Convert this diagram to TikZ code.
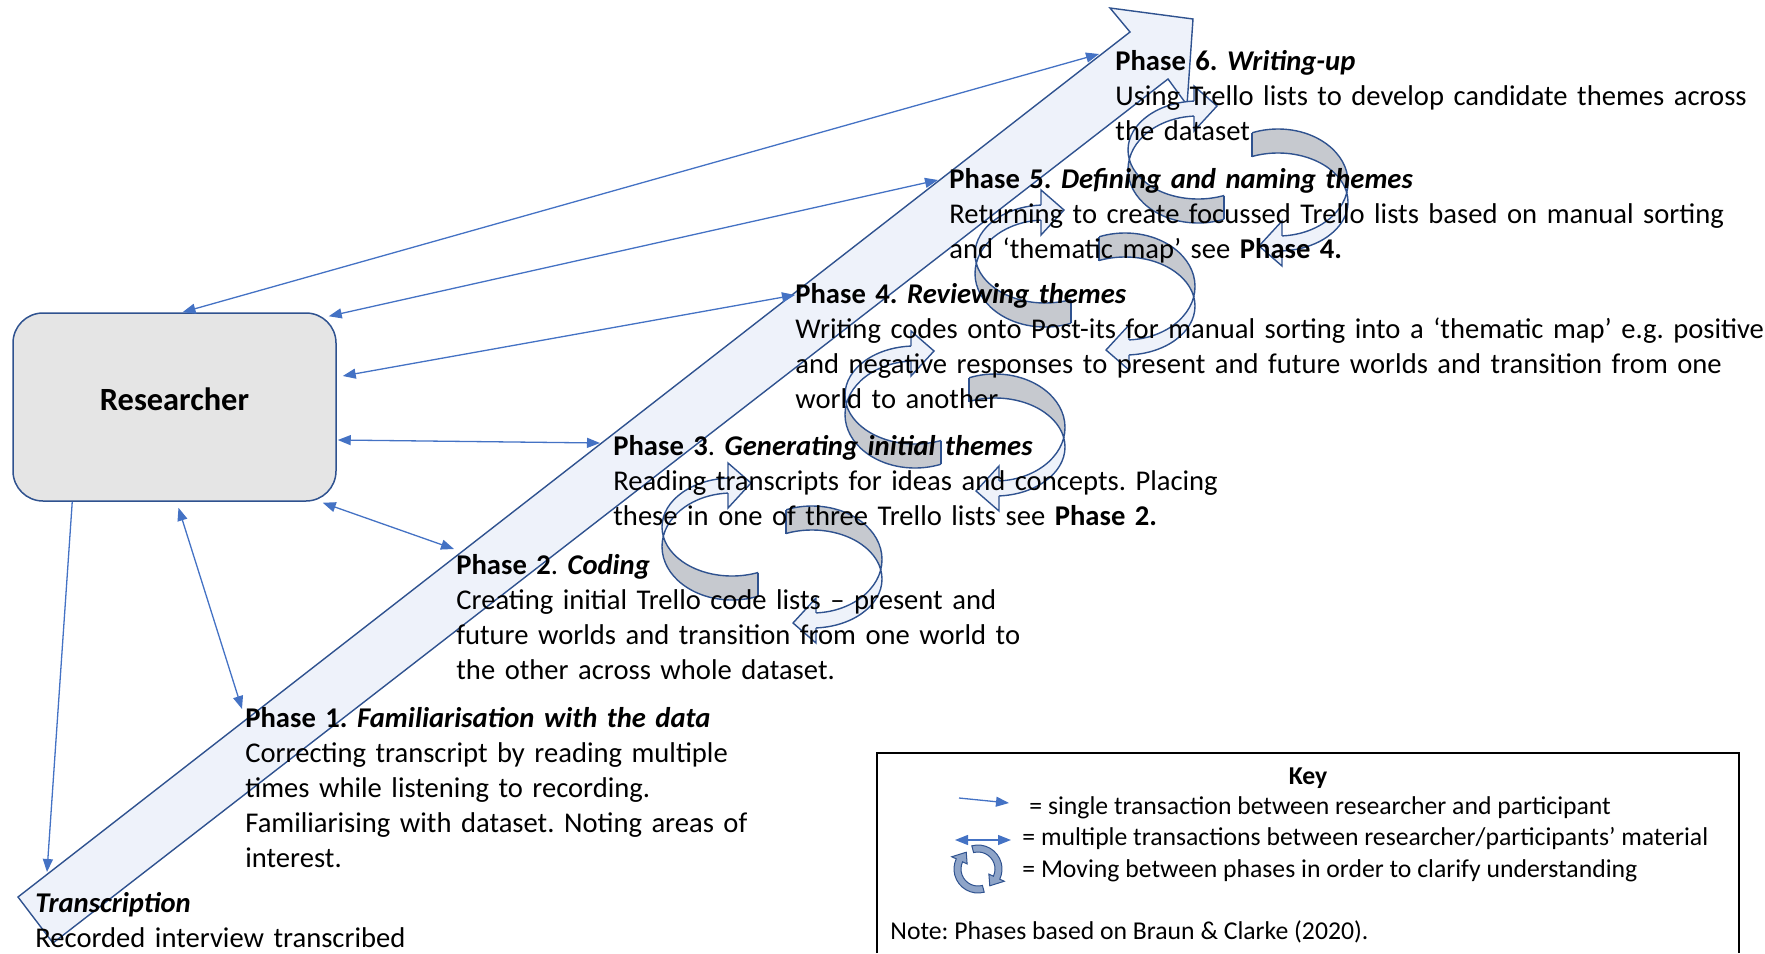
\documentclass[tikz,border=0pt]{standalone}
\usepackage{fontspec}
\setmainfont{Carlito}
\usetikzlibrary{positioning,calc,arrows.meta}
\frenchspacing

\definecolor{linkblue}{HTML}{4472C4}
\definecolor{edgeblue}{HTML}{2F528F}
\definecolor{paleblue}{HTML}{EEF2FA}
\definecolor{backgrey}{HTML}{C6C9CF}
\definecolor{boxgrey}{HTML}{E5E5E5}
\definecolor{ringblue}{HTML}{8EA4C8}

% one half of a twisted loop: grey back, pale front with its head
\newcommand{\turnarc}{%
  \begin{scope}
    \clip (-130,-16.7) rectangle (-14,70);
    \filldraw[backband,even odd rule] (-40,-26) ellipse[x radius=70,y radius=49]
      (-40,-6.5) ellipse[x radius=70,y radius=53.5];
  \end{scope}
  \draw[bandedge] (-14,19.5) -- (-14,43.2);
  \begin{scope}
    \clip (-130,-16.7) rectangle (-44,-110);
    \filldraw[frontband,even odd rule] (-40,-26) ellipse[x radius=70,y radius=49]
      (-40,-6.5) ellipse[x radius=70,y radius=53.5];
  \end{scope}
  \filldraw[frontband] (-44,-74.9) -- (-44,-90) -- (-21,-70) -- (-44,-45) -- (-44,-59.9);
}
% two halves turned round one another
\newcommand{\turnpair}[2]{%
  \begin{scope}[shift={(#1,#2)}]
    \turnarc
    \begin{scope}[rotate=180]\turnarc\end{scope}
  \end{scope}}

\begin{document}
\begin{tikzpicture}[x=0.5pt,y=-0.5pt,
    phase/.style={anchor=base west,inner sep=0pt,text width=500pt,align=left,
      font=\fontsize{14.3}{17.5}\selectfont},
    keytext/.style={anchor=base west,inner sep=0pt,font=\fontsize{12.85}{15.75}\selectfont},
    link/.style={draw=linkblue,line width=0.65pt},
    oneway/.style={-{Triangle[length=6.5pt,width=5pt]}},
    twoway/.style={{Triangle[length=6.5pt,width=5pt]}-{Triangle[length=6.5pt,width=5pt]}},
    bandedge/.style={draw=edgeblue,line width=0.7pt},
    backband/.style={bandedge,fill=backgrey},
    frontband/.style={bandedge,fill=paleblue},
    keyring/.style={draw=edgeblue,line width=0.5pt,fill=ringblue}]

  \useasboundingbox (0,0) rectangle (1765,953);

  % main arrow through the phases
  \filldraw[frontband] (18,897) -- (1130,32) -- (1110,8) -- (1193,19)
    -- (1187,105) -- (1168,79) -- (53,943) -- cycle;

  \turnpair{772}{553}
  \turnpair{955}{421}
  \turnpair{1085}{280}
  \turnpair{1238}{176}

  \node[draw=edgeblue,line width=0.75pt,fill=boxgrey,rounded corners=15pt,
    minimum width=161.5pt,minimum height=94pt,text depth=8pt,
    font=\fontsize{16.2}{19}\selectfont\bfseries] (res) at (174.5,407) {Researcher};

  \node[phase] (ph6) at (1115,70) {\textbf{Phase 6. \textit{Writing-up}}\\
    Using Trello lists to develop candidate themes across\\the dataset};
  \node[phase] (ph5) at (949,188) {\textbf{Phase 5. \textit{Defining and naming themes}}\\
    Returning to create focussed Trello lists based on manual sorting\\
    and ‘thematic map’ see \textbf{Phase 4.}};
  \node[phase] (ph4) at (795,303) {\textbf{Phase 4. \textit{Reviewing themes}}\\
    Writing codes onto Post-its for manual sorting into a ‘thematic map’ e.g. positive\\
    and negative responses to present and future worlds and transition from one\\
    world to another};
  \node[phase] (ph3) at (613,455) {\textbf{Phase 3}. \textbf{\textit{Generating initial themes}}\\
    Reading transcripts for ideas and concepts. Placing\\
    these in one of three Trello lists see \textbf{Phase 2.}};
  \node[phase] (ph2) at (456,574) {\textbf{Phase 2}. \textbf{\textit{Coding}}\\
    Creating initial Trello code lists – present and\\
    future worlds and transition from one world to\\
    the other across whole dataset.};
  \node[phase] (ph1) at (245,727) {\textbf{Phase 1. \textit{Familiarisation with the data}}\\
    Correcting transcript by reading multiple\\
    times while listening to recording.\\
    Familiarising with dataset. Noting areas of\\
    interest.};
  \node[phase] (trans) at (35,912) {\textbf{\textit{Transcription}}\\
    Recorded interview transcribed};

  % researcher links
  \draw[link,twoway] ($(res.north)+(8,0)$) -- ($(ph6.base west)+(-16,-16)$);
  \draw[link,twoway] ($(res.north east)+(-8,4)$) -- ($(ph5.base west)+(-11,-8)$);
  \draw[link,twoway] ($(res.east)+(6,-31)$) -- ($(ph4.base west)+(0,-8)$);
  \draw[link,twoway] ($(res.east)+(1,33)$) -- ($(ph3.base west)+(-13,-12)$);
  \draw[link,twoway] ($(res.south east)+(-14,1)$) -- ($(ph2.base west)+(-2,-25)$);
  \draw[link,twoway] ($(res.south)+(4,6)$) -- ($(ph1.base west)+(-3,-18)$);
  \draw[link,oneway] ($(res.south west)+(60,0)$) -- ($(trans.base west)+(12,-40)$);

  % key
  \draw[line width=0.75pt] (877,953) -- (877,753) -- (1739,753) -- (1739,953);
  \node[keytext,anchor=base,font=\fontsize{12.85}{15.75}\selectfont\bfseries] (keytitle) at (1308,784) {Key};
  \coordinate (s1) at (959,798);
  \coordinate (s2) at (1009,803);
  \draw[link,oneway] (s1) -- (s2);
  \coordinate (m1) at (955,840);
  \coordinate (m2) at (1011,840);
  \draw[link,twoway] (m1) -- (m2);
  \foreach \turn in {0,180}
    \filldraw[keyring,shift={(978,869)},rotate=\turn] (75:24)
      arc[start angle=75,end angle=205,radius=24] -- (205:29) -- (235:20.5)
      -- (205:12) -- (205:17) arc[start angle=205,end angle=75,radius=17] -- cycle;
  \node[keytext] (k1) at (1029,814) {= single transaction between researcher and participant};
  \node[keytext,on grid,below=15.75pt of k1.base west,anchor=base west,xshift=-3.5pt] (k2)
    {= multiple transactions between researcher/participants’ material};
  \node[keytext,on grid,below=15.75pt of k2.base west,anchor=base west] (k3)
    {= Moving between phases in order to clarify understanding};
  \node[keytext] (note) at (890,939) {Note: Phases based on Braun \& Clarke (2020).};
\end{tikzpicture}
\end{document}
